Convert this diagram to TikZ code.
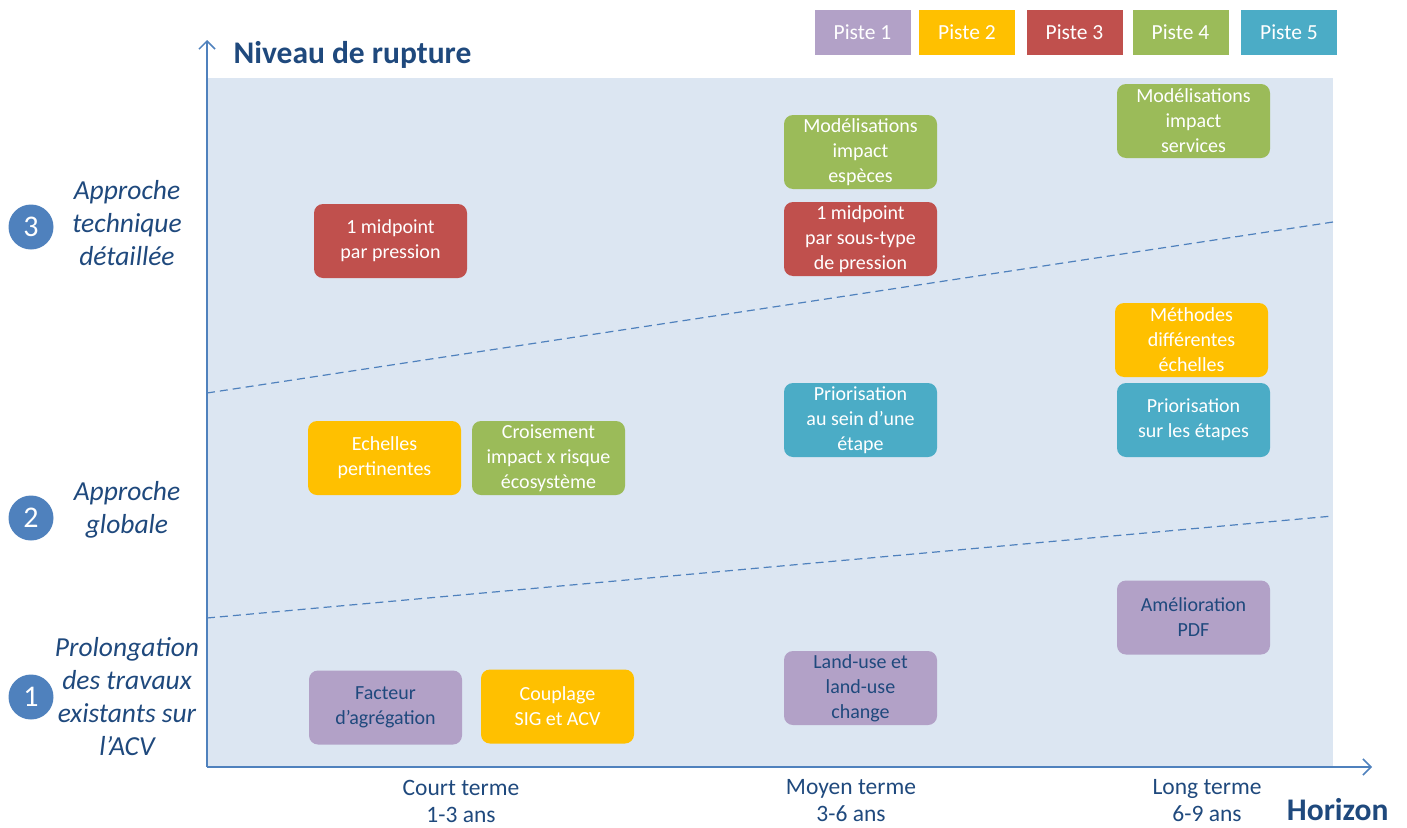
\documentclass[tikz,border=0pt]{standalone}
\usepackage{fontspec}
\setmainfont{Carlito}
\usetikzlibrary{arrows.meta}
\definecolor{pisteA}{HTML}{B2A1C7}
\definecolor{pisteB}{HTML}{FFC000}
\definecolor{pisteC}{HTML}{C0504D}
\definecolor{pisteD}{HTML}{9BBB59}
\definecolor{pisteE}{HTML}{4BACC6}
\definecolor{fond}{HTML}{DCE6F2}
\definecolor{axe}{HTML}{4F81BD}
\definecolor{titre}{HTML}{1F497D}
\begin{document}
\begin{tikzpicture}[x=1pt, y=-1pt,
  piste/.style={rounded corners=9pt, minimum width=153pt, minimum height=74pt, inner sep=2pt,
    align=center, text=white, font=\fontsize{20}{25}\selectfont},
  legende/.style={minimum width=96pt, minimum height=45pt, inner sep=0pt, text=white,
    font=\fontsize{21.5}{24}\selectfont},
  niveau/.style={align=center, text=titre, font=\fontsize{27.5}{33}\selectfont\itshape},
  rond/.style={circle, fill=axe, minimum size=45pt, inner sep=0pt, text=white,
    font=\fontsize{30}{32}\selectfont},
  horizon/.style={align=center, text=titre, font=\fontsize{23.5}{27}\selectfont}]
\useasboundingbox (0,0) rectangle (1407,827);
\fill[fond] (207,78) rectangle (1333,767);
\coordinate (origine) at (207,767);
\coordinate (haut) at (207,40);
\coordinate (droite) at (1372,767);
\draw[axe, line width=1.5pt, -{Straight Barb[length=8pt, width=16pt]}] (origine) -- (haut);
\draw[axe, line width=1.5pt, -{Straight Barb[length=8pt, width=16pt]}] (origine) -- (droite);
\draw[axe, line width=1.2pt, dash pattern=on 8pt off 5pt] (207,393) -- (1333,222);
\draw[axe, line width=1.2pt, dash pattern=on 8pt off 5pt] (207,618) -- (1333,516);
\node[anchor=west, text=titre, font=\fontsize{31.5}{34}\selectfont\bfseries] (rupture) at (230,55) {Niveau de rupture};
\node[anchor=east, text=titre, font=\fontsize{31.5}{34}\selectfont\bfseries] (horizonTitre) at (1392,810) {Horizon};
% legende
\node[legende, fill=pisteA] (p1) at (862.5,32.5) {Piste 1};
\node[legende, fill=pisteB] (p2) at (967,32.5) {Piste 2};
\node[legende, fill=pisteC] (p3) at (1074.5,32.5) {Piste 3};
\node[legende, fill=pisteD] (p4) at (1180.5,32.5) {Piste 4};
\node[legende, fill=pisteE] (p5) at (1289,32.5) {Piste 5};
% niveaux
\node[rond] (n3) at (31,227) {3};
\node[rond] (n2) at (31,518) {2};
\node[rond] (n1) at (31,697) {1};
\node[niveau] (approcheTech) at (127,223) {Approche\\technique\\détaillée};
\node[niveau] (approcheGlob) at (127,510) {Approche\\globale};
\node[niveau] (prolongation) at (127,697) {Prolongation\\des travaux\\existants sur\\l’ACV};
% horizons
\node[horizon] (court) at (461,801) {Court terme\\1-3 ans};
\node[horizon] (moyen) at (851,801) {Moyen terme\\3-6 ans};
\node[horizon] (long) at (1207,801) {Long terme\\6-9 ans};
% pistes
\node[piste, fill=pisteD] (especes) at (860.5,152) {Modélisations\\impact\\espèces};
\node[piste, fill=pisteC] (sousType) at (860.5,239) {1 midpoint\\par sous-type\\de pression};
\node[piste, fill=pisteD] (services) at (1193.5,121) {Modélisations\\impact\\services};
\node[piste, fill=pisteC] (pression) at (390.5,241) {1 midpoint\\par pression};
\node[piste, fill=pisteB] (methodes) at (1191.5,340) {Méthodes\\différentes\\échelles};
\node[piste, fill=pisteE] (seinEtape) at (860.5,420) {Priorisation\\au sein d’une\\étape};
\node[piste, fill=pisteE] (etapes) at (1193.5,420) {Priorisation\\sur les étapes};
\node[piste, fill=pisteB] (echelles) at (384.5,458) {Echelles\\pertinentes};
\node[piste, fill=pisteD] (croisement) at (548.5,458) {Croisement\\impact x risque\\écosystème};
\node[piste, fill=pisteA, text=titre] (amelioration) at (1193.5,617.5) {Amélioration\\PDF};
\node[piste, fill=pisteA, text=titre] (facteur) at (385.5,707.5) {Facteur\\d’agrégation};
\node[piste, fill=pisteB] (couplage) at (557.5,706.5) {Couplage\\SIG et ACV};
\node[piste, fill=pisteA, text=titre] (landUse) at (860.5,688) {Land-use et\\land-use\\change};
\end{tikzpicture}
\end{document}
